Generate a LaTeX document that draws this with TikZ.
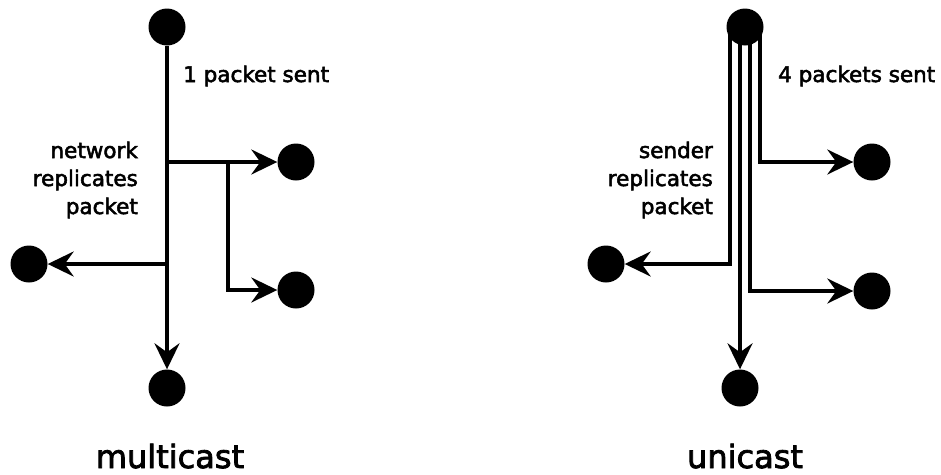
\documentclass[tikz,border=0pt]{standalone}
\usepackage{fontspec}
\setmainfont{DejaVu Sans}[FakeBold=2.5]
\usetikzlibrary{arrows.meta,calc}
\begin{document}
\begin{tikzpicture}[x=1pt,y=-1pt,
  dot/.style={circle,fill=black,inner sep=0pt,minimum size=37pt},
  link/.style={line width=3.5pt,-{Stealth[length=26pt,width=25pt,inset=9pt]}},
  note/.style={font=\fontsize{21.5}{28}\selectfont,inner sep=0pt},
  title/.style={font=\fontsize{32}{38}\selectfont,inner sep=0pt,text depth=0pt,anchor=base}]
\path[use as bounding box] (0,0) rectangle (941,474);

% multicast: one packet, copied inside the network
\node[dot] (m-src) at (167,27) {};
\node[dot] (m-bot) at (167,388) {};
\node[dot] (m-r1) at (296,162) {};
\node[dot] (m-r2) at (296,290) {};
\node[dot] (m-l) at (29,264) {};
\coordinate (m-fork) at (228,162);
\draw[link] (m-src) -- (m-bot);
\draw[link] (m-src |- m-r1) -- (m-r1);
\draw[link] (m-fork) |- (m-r2);
\draw[link] (m-src |- m-l) -- (m-l);

\node[note,anchor=base west] (m-count) at (183,82) {1 packet sent};
% the base anchor of a multi-line node sits on its last line
\node[note,anchor=base east,align=right] (m-note) at (138,214) {network\\replicates\\packet};
\node[title] (m-title) at (170,468) {multicast};

% unicast: the sender emits one copy per receiver
\node[dot] (u-src) at (745,27) {};
\node[dot] (u-bot) at (740,388) {};
\node[dot] (u-r1) at (872,162) {};
\node[dot] (u-r2) at (872,291) {};
\node[dot] (u-l) at (606,264) {};
\draw[link] ($(u-src.center)+(-15,0)$) |- (u-l);
\draw[link] (u-src.center -| u-bot) -- (u-bot);
\draw[link] ($(u-src.center)+(5,0)$) |- (u-r2);
\draw[link] ($(u-src.center)+(15,0)$) |- (u-r1);

\node[note,anchor=base west] (u-count) at (778,82) {4 packets sent};
\node[note,anchor=base east,align=right] (u-note) at (713,214) {sender\\replicates\\packet};
\node[title] (u-title) at (745,468) {unicast};
\end{tikzpicture}
\end{document}
